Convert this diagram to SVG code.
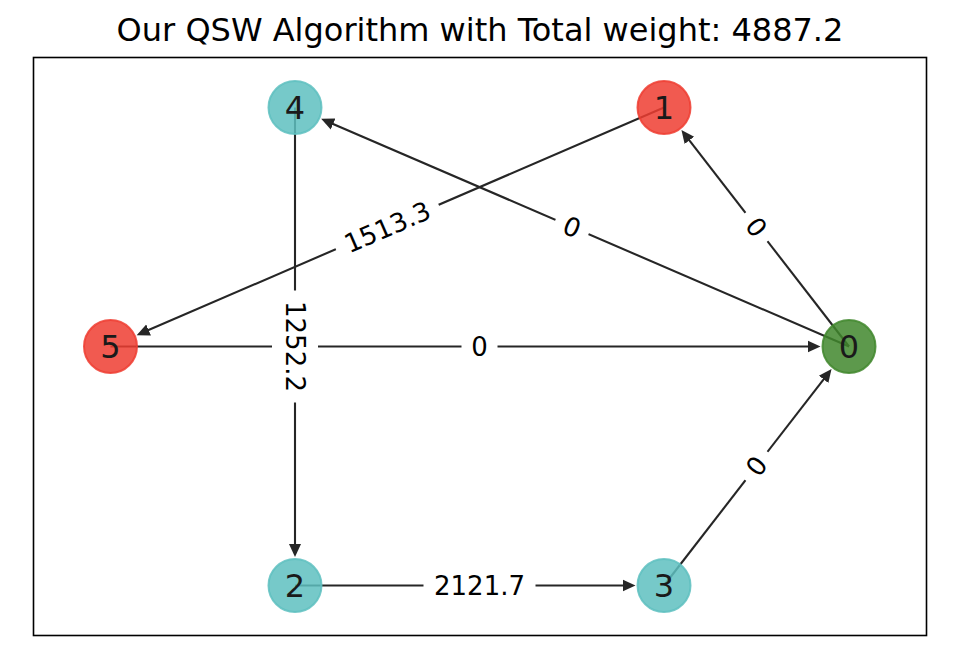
<svg xmlns="http://www.w3.org/2000/svg" width="976" height="662" viewBox="0 0 976 662">
<style>
text{font-family:"DejaVu Sans","Liberation Sans",sans-serif;fill:#000}
.title{font-size:32px;text-anchor:middle}
.edge{stroke:#262626;stroke-width:2.1;fill:none;marker-end:url(#arr)}
.lbl rect{fill:#fff;stroke:none}
.lbl text{font-size:26px;text-anchor:middle}
.node circle{stroke-width:2;fill-opacity:.85;stroke-opacity:.85}
.node text{font-size:32px;text-anchor:middle;fill:#1a1a1a}
.red circle{fill:#ee3d31;stroke:#ee3d31}
.teal circle{fill:#5ec0c0;stroke:#5ec0c0}
.green circle{fill:#41872d;stroke:#41872d}
</style>
<defs>
<marker id="arr" markerUnits="userSpaceOnUse" markerWidth="14" markerHeight="14" viewBox="0 -7 14 14" refX="7" refY="0" orient="auto">
<path d="M0,-6 L13,0 L0,6 z" fill="#262626"/>
</marker>
</defs>
<rect width="976" height="662" fill="#fff"/>
<text class="title" x="480" y="41">Our QSW Algorithm with Total weight: 4887.2</text>
<rect x="33.5" y="57.5" width="893" height="578" fill="none" stroke="#000" stroke-width="1.6"/>
<g id="connectors">
<line id="e5-0" class="edge" x1="110.5" y1="346.5" x2="814.5" y2="346.5"/>
<line id="e0-4" class="edge" x1="849" y1="346.5" x2="326.68" y2="121.17"/>
<line id="e0-1" class="edge" x1="849" y1="346.5" x2="685.12" y2="134.78"/>
<line id="e1-5" class="edge" x1="664" y1="107.5" x2="142.17" y2="332.82"/>
<line id="e4-2" class="edge" x1="295" y1="107.5" x2="295" y2="551"/>
<line id="e2-3" class="edge" x1="295" y1="585.5" x2="629.5" y2="585.5"/>
<line id="e3-0" class="edge" x1="664" y1="585.5" x2="827.88" y2="373.78"/>
<g class="lbl" transform="translate(479.5,346.5)"><rect x="-18" y="-23" width="36" height="46" rx="8"/><text y="9.3">0</text></g>
<g class="lbl" transform="translate(572,227) rotate(23.3)"><rect x="-18" y="-23" width="36" height="46" rx="8"/><text y="9.3">0</text></g>
<g class="lbl" transform="translate(756.5,227) rotate(52.3)"><rect x="-18" y="-23" width="36" height="46" rx="8"/><text y="9.3">0</text></g>
<g class="lbl" transform="translate(387.25,227) rotate(-23.3)"><rect x="-56" y="-23" width="112" height="46" rx="8"/><text y="9.3">1513.3</text></g>
<g class="lbl" transform="translate(295,346.5) rotate(90)"><rect x="-56" y="-23" width="112" height="46" rx="8"/><text y="9.3">1252.2</text></g>
<g class="lbl" transform="translate(479.5,585.5)"><rect x="-56" y="-23" width="112" height="46" rx="8"/><text y="9.3">2121.7</text></g>
<g class="lbl" transform="translate(756.5,466) rotate(-52.3)"><rect x="-18" y="-23" width="36" height="46" rx="8"/><text y="9.3">0</text></g>
</g>
<g id="node0" class="node green"><circle cx="849" cy="346.5" r="26.5"/><text x="849" y="358.2">0</text></g>
<g id="node1" class="node red"><circle cx="664" cy="107.5" r="26.5"/><text x="664" y="119.2">1</text></g>
<g id="node2" class="node teal"><circle cx="295" cy="585.5" r="26.5"/><text x="295" y="597.2">2</text></g>
<g id="node3" class="node teal"><circle cx="664" cy="585.5" r="26.5"/><text x="664" y="597.2">3</text></g>
<g id="node4" class="node teal"><circle cx="295" cy="107.5" r="26.5"/><text x="295" y="119.2">4</text></g>
<g id="node5" class="node red"><circle cx="110.5" cy="346.5" r="26.5"/><text x="110.5" y="358.2">5</text></g>
</svg>
